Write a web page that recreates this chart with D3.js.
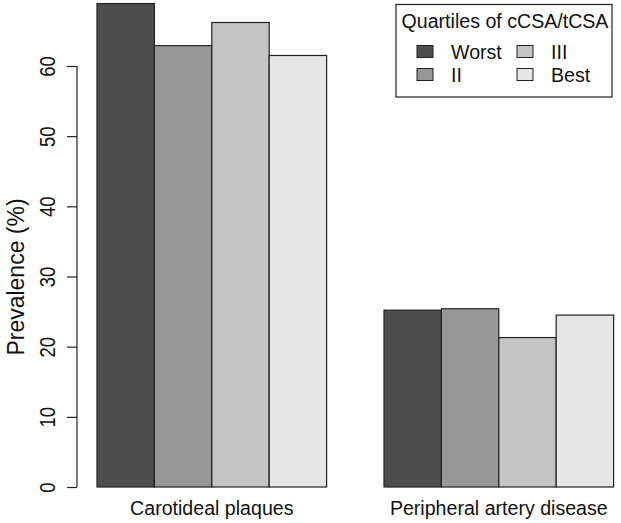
<!DOCTYPE html>
<html><head><meta charset="utf-8">
<script src="https://cdn.jsdelivr.net/npm/d3@7"></script>
<style>body{margin:0;background:#fff}svg{display:block;font-family:"Liberation Sans",Arial,sans-serif}</style>
</head><body><svg id="c" width="621" height="523"></svg>
<script>
const categories = ["Carotideal plaques", "Peripheral artery disease"];
const quartiles = ["Worst", "II", "III", "Best"];
const worst = [68.9, 25.2];
const q2 = [62.9, 25.4];
const q3 = [66.2, 21.3];
const best = [61.5, 24.5];
const yTicks = [0, 10, 20, 30, 40, 50, 60];
const colors = ["#4d4d4d", "#989898", "#c4c4c4", "#e6e6e6"];
const series = [worst, q2, q3, best];

const svg = d3.select("#c");
const y = d3.scaleLinear().domain([0, 60]).range([487, 66]);
// R barplot: space = c(0,1) -> unit positions
const unitW = 57.4, x0 = 97 - unitW;
const x = d3.scaleLinear().domain([0, 10]).range([x0, x0 + 10 * unitW]);

categories.forEach((cat, gi) => {
  const start = 1 + gi * 5;
  series.forEach((s, si) => {
    svg.append("rect")
      .attr("x", x(start + si)).attr("width", x(start + si + 1) - x(start + si))
      .attr("y", y(s[gi])).attr("height", y(0) - y(s[gi]))
      .attr("fill", colors[si]).attr("stroke", "#222").attr("stroke-width", 1.2);
  });
  svg.append("text").attr("x", x(start + 2)).attr("y", 515)
    .attr("text-anchor", "middle").attr("font-size", 19.6).attr("fill", "#111").text(cat);
});

const ax = svg.append("g").attr("transform", "translate(77,0)")
  .call(d3.axisLeft(y).tickValues(yTicks).tickSize(10).tickFormat(d3.format("d")));
ax.select(".domain").attr("stroke", "#222").attr("stroke-width", 1.2).attr("d", `M0,${y(0)}V${y(60)}`);
ax.selectAll(".tick line").attr("stroke", "#222").attr("stroke-width", 1.2);
ax.selectAll(".tick text").attr("x", null).attr("dy", null)
  .attr("transform", "translate(-29,0) rotate(-90) scale(1,1.15)")
  .attr("text-anchor", "middle").attr("dominant-baseline", "central")
  .attr("font-size", 18.5).attr("fill", "#111").attr("font-family", "Liberation Sans, Arial, sans-serif");

svg.append("text").attr("transform", "translate(16,277) rotate(-90)")
  .attr("text-anchor", "middle").attr("dominant-baseline", "central")
  .attr("font-size", 23).attr("fill", "#111").text("Prevalence (%)");

// legend
const lg = svg.append("g");
lg.append("rect").attr("x", 396).attr("y", 4.5).attr("width", 216).attr("height", 92.5)
  .attr("fill", "#fff").attr("stroke", "#222").attr("stroke-width", 1.2);
lg.append("text").attr("x", 505).attr("y", 27.5).attr("text-anchor", "middle")
  .attr("font-size", 19.6).attr("fill", "#111").text("Quartiles of cCSA/tCSA");
quartiles.forEach((q, i) => {
  const col = Math.floor(i / 2), row = i % 2;
  const bx = 417 + col * 100, by = 51.5 + row * 23;
  lg.append("rect").attr("x", bx).attr("y", by - 6).attr("width", 16).attr("height", 12)
    .attr("fill", colors[i]).attr("stroke", "#222").attr("stroke-width", 1);
  lg.append("text").attr("x", bx + 34).attr("y", by + 7)
    .attr("font-size", 19.6).attr("fill", "#111").text(q);
});
</script></body></html>
